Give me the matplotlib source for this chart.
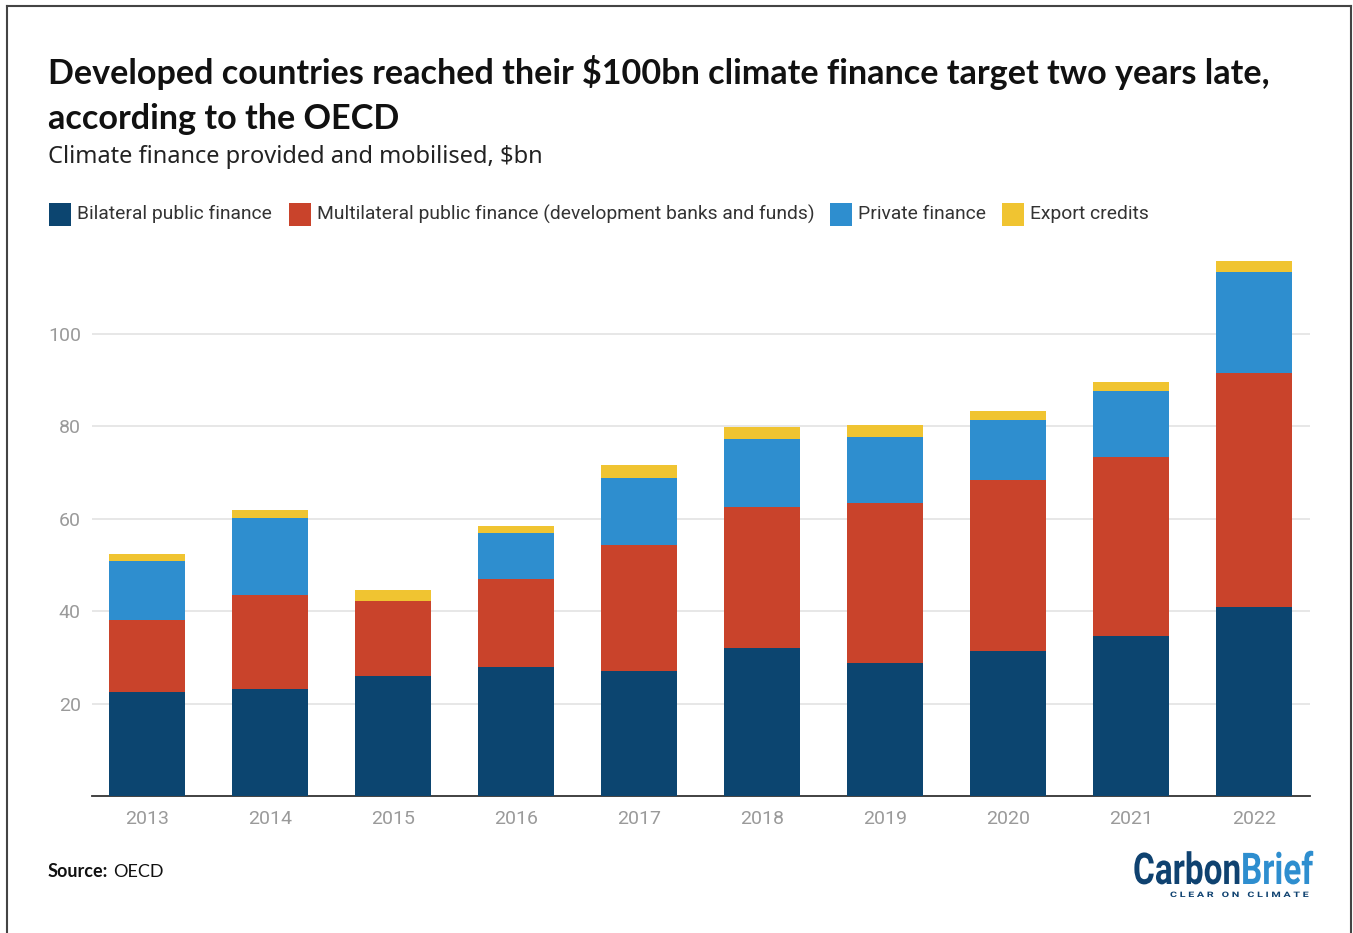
import matplotlib
matplotlib.use("Agg")
import matplotlib.pyplot as plt
from matplotlib.patches import Rectangle, PathPatch
from matplotlib.textpath import TextPath
from matplotlib.font_manager import FontProperties
from matplotlib.transforms import Affine2D
import numpy as np

# Climate finance by source, $bn (OECD)
years = ["2013", "2014", "2015", "2016", "2017", "2018", "2019", "2020", "2021", "2022"]
bilateral = [22.5, 23.1, 25.9, 28.0, 27.0, 32.0, 28.7, 31.4, 34.6, 41.0]
multilateral = [15.5, 20.4, 16.2, 18.9, 27.3, 30.5, 34.7, 36.9, 38.7, 50.6]
private = [12.8, 16.7, 0.0, 10.1, 14.5, 14.7, 14.4, 13.1, 14.4, 21.9]
export_credits = [1.6, 1.6, 2.5, 1.5, 2.9, 2.6, 2.6, 1.9, 2.0, 2.3]

series_names = ["Bilateral public finance",
                "Multilateral public finance (development banks and funds)",
                "Private finance", "Export credits"]
colors = ["#0c4570", "#c9432b", "#2e8ecf", "#f0c431"]

W, H = 1353, 933
fig = plt.figure(figsize=(W / 100, H / 100), dpi=100)


def px(x, y):
    return x / W, 1 - y / H


# axes placed in pixel terms: y=0 at 796, 4.62 px per $bn
y0, scale = 796, 4.62
ymax = 120
left, right = 92, 1310
top = y0 - ymax * scale
ax = fig.add_axes([left / W, 1 - y0 / H, (right - left) / W, (y0 - top) / H])

x = np.arange(len(years))
bottom = np.zeros(len(years))
for vals, c in zip([bilateral, multilateral, private, export_credits], colors):
    ax.bar(x, vals, width=0.62, bottom=bottom, color=c, zorder=3)
    bottom += np.array(vals)

ax.set_xlim(-0.447, 9.455)
ax.set_ylim(0, ymax)
ax.set_yticks([20, 40, 60, 80, 100])
ax.set_xticks(x)
ax.set_xticklabels(years)
ax.grid(axis="y", color="#e3e3e3", linewidth=1.2, zorder=0)
for s in ["top", "right", "left"]:
    ax.spines[s].set_visible(False)
ax.spines["bottom"].set_color("#333333")
ax.spines["bottom"].set_linewidth(1.3)
ax.tick_params(axis="both", length=0, labelcolor="#9a9a9a", labelsize=14)
ax.tick_params(axis="x", pad=10)
ax.tick_params(axis="y", pad=8)
for lab in ax.get_xticklabels() + ax.get_yticklabels():
    lab.set_family("Roboto")

renderer = fig.canvas.get_renderer()


def fit_text(x_px, y_px, s, width_px, **kw):
    # shrink/grow font so the line spans width_px
    t = fig.text(*px(x_px, y_px), s, va="baseline", **kw)
    w = t.get_window_extent(renderer).width
    t.set_fontsize(t.get_fontsize() * width_px / w)
    return t


# titles
t1 = fit_text(48, 84, "Developed countries reached their $100bn climate finance target two years late,",
              1220, fontsize=24, fontweight="bold", family="Lato", color="#111111")
fig.text(*px(48, 129), "according to the OECD", fontsize=t1.get_fontsize(),
         fontweight="bold", family="Lato", color="#111111", va="baseline")
fig.text(*px(48, 163), "Climate finance provided and mobilised, $bn",
         fontsize=17, family="Noto Sans", color="#222222", va="baseline")

# legend
legend_x = [49, 289, 830, 1002]
for lx, name, c in zip(legend_x, series_names, colors):
    fig.patches.append(Rectangle(px(lx, 226), 22 / W, 23 / H, transform=fig.transFigure,
                                 facecolor=c, edgecolor="none"))
    fig.text(*px(lx + 28, 214), name, fontsize=13.9, family="Roboto",
             color="#333333", va="center")

# source
fig.text(*px(48, 877), "Source:", fontsize=13, fontweight="bold", family="Lato",
         color="#111111", va="baseline")
fig.text(*px(113, 877), "OECD", fontsize=13, family="Lato", color="#111111",
         va="baseline")


# logo drawn as squeezed text paths, in display pixels
def logo_word(s, x_px, base_px, sx, sy, color, weight="bold", family="Roboto"):
    path = TextPath((0, 0), s, size=1, prop=FontProperties(family=family, weight=weight))
    tr = Affine2D().scale(sx, sy).translate(x_px, H - base_px)
    fig.add_artist(PathPatch(path, facecolor=color, edgecolor="none", transform=tr))
    return path.get_extents().width * sx


prop_b = FontProperties(family="Roboto", weight="bold")
full_w = TextPath((0, 0), "CarbonBrief", size=1, prop=prop_b).get_extents().width
cap_h = TextPath((0, 0), "C", size=1, prop=prop_b).get_extents().height
sx = 179 / full_w
sy = 32 / cap_h
w_carbon = TextPath((0, 0), "Carbon", size=1, prop=prop_b).get_extents().width
logo_word("Carbon", 1133, 884, sx, sy, "#0f4270")
logo_word("Brief", 1133 + w_carbon * sx + 3, 884, sx, sy, "#2e8ecf")
tag = TextPath((0, 0), "C L E A R   O N   C L I M A T E", size=1, prop=prop_b)
tsx = 138 / tag.get_extents().width
logo_word("C L E A R   O N   C L I M A T E", 1170, 897, tsx, 5.5 / cap_h, "#0f4270")

# frame
fig.add_artist(plt.Line2D([7 / W, 7 / W], [0, 1 - 6 / H], color="#444444", lw=1.5))
fig.add_artist(plt.Line2D([7 / W, 1351 / W], [1 - 6 / H, 1 - 6 / H], color="#444444", lw=1.5))
fig.add_artist(plt.Line2D([1351 / W, 1351 / W], [0, 1 - 6 / H], color="#444444", lw=1.5))

fig.savefig("out.png", dpi=100, facecolor="white")
